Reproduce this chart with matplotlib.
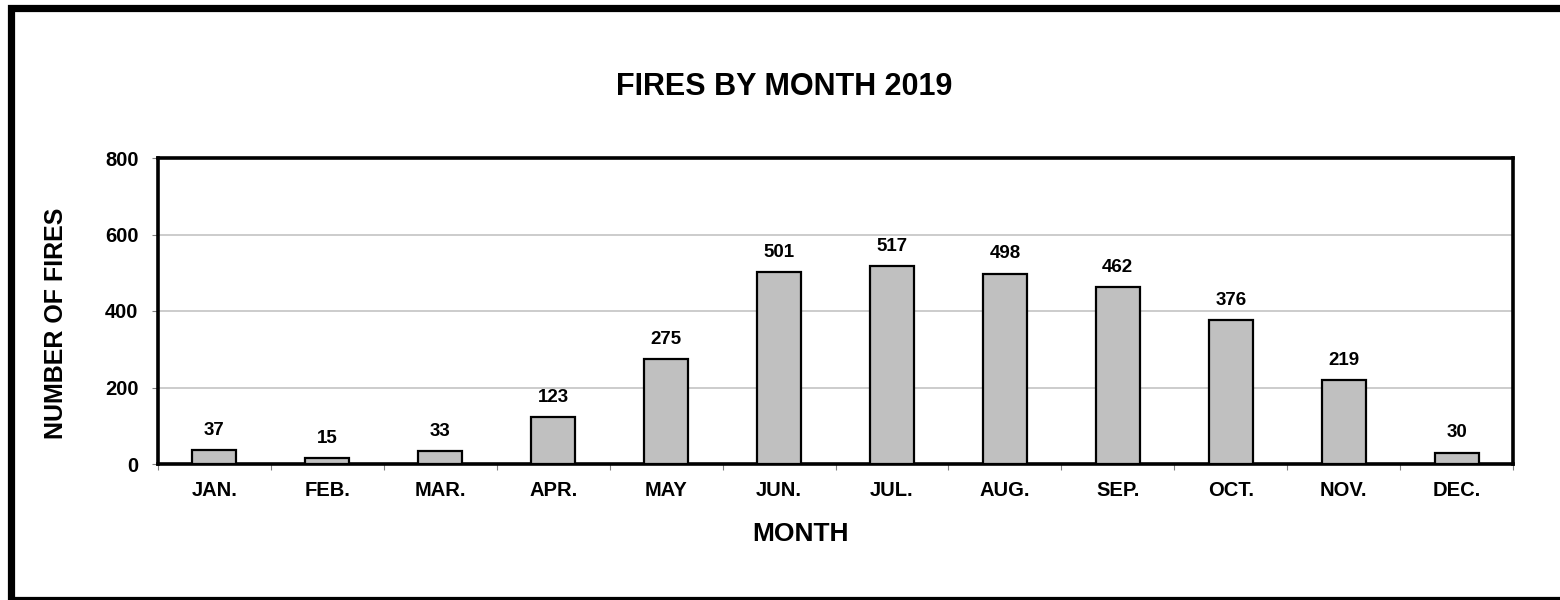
import numpy as np
import matplotlib
matplotlib.use('Agg')
import matplotlib.pyplot as plt
from matplotlib.patches import Rectangle

plt.rcParams['font.family'] = ['Liberation Sans', 'DejaVu Sans']
plt.rcParams['font.weight'] = 'bold'

months = ['JAN.', 'FEB.', 'MAR.', 'APR.', 'MAY', 'JUN.', 'JUL.', 'AUG.',
          'SEP.', 'OCT.', 'NOV.', 'DEC.']
fires = [37, 15, 33, 123, 275, 501, 517, 498, 462, 376, 219, 30]
y_ticks = [0, 200, 400, 600, 800]

fig = plt.figure(figsize=(15.6, 6), dpi=100)
ax = fig.add_axes([158 / 1560, 1 - 464 / 600, (1513 - 158) / 1560, (464 - 158) / 600])

# outer frame of the chart (right side runs off the picture)
fig.patches.append(Rectangle((11 / 1560, 0), 1.1, 592 / 600,
                             transform=fig.transFigure, fill=False,
                             edgecolor='black', linewidth=5.2, zorder=0))

x = np.arange(len(months))
ax.bar(x, fires, width=0.39, color='#c0c0c0', edgecolor='black',
       linewidth=1.6, zorder=3)
for xi, v in zip(x, fires):
    ax.annotate(str(v), (xi, v), xytext=(0, 8), textcoords='offset points',
                ha='center', va='bottom', fontsize=13.5, fontweight='bold')

ax.set_xlim(-0.5, len(months) - 0.5)
ax.set_ylim(0, 800)
ax.set_yticks(y_ticks)
ax.set_yticklabels([str(t) for t in y_ticks], fontsize=14.5, fontweight='bold')
ax.yaxis.grid(True, color='#cccccc', linewidth=1.4, zorder=0)
ax.set_axisbelow(True)

# ticks at category boundaries, labels centred under bars
ax.set_xticks(np.arange(-0.5, len(months), 1.0))
ax.set_xticklabels([])
ax.set_xticks(x, minor=True)
ax.set_xticklabels(months, minor=True, fontsize=14.5, fontweight='bold')
ax.tick_params(axis='x', which='minor', length=0, pad=12)
ax.tick_params(axis='x', which='major', length=4, color='#808080')
ax.tick_params(axis='y', length=4, color='#808080', pad=10)

for s in ax.spines.values():
    s.set_linewidth(2.6)
    s.set_color('black')

ax.set_xlabel('MONTH', fontsize=19, fontweight='bold')
ax.xaxis.set_label_coords((800 - 158) / 1355, (464 - 522) / 306)
ax.set_ylabel('NUMBER OF FIRES', fontsize=18, fontweight='bold')
ax.yaxis.set_label_coords((68 - 158) / 1355, 0.46)
fig.text(784 / 1560, 1 - 87 / 600, 'FIRES BY MONTH 2019', ha='center',
         va='center', fontsize=22, fontweight='bold')

fig.savefig('out.png', dpi=100)
